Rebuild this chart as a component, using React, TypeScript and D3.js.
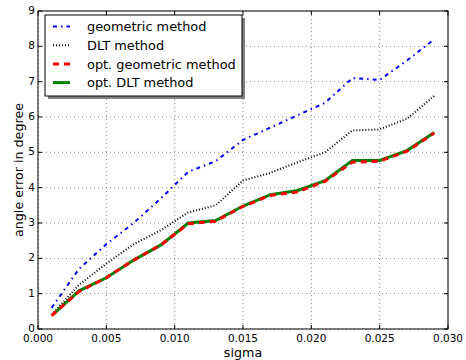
import React from "react"
import * as d3 from "d3"

// sigma values (x)
const sigma = [0.001, 0.003, 0.005, 0.007, 0.009, 0.011, 0.013, 0.015, 0.017, 0.019, 0.021, 0.023, 0.025, 0.027, 0.029]

// angle errors in degree
const geometric = [0.6, 1.7, 2.4, 3.0, 3.7, 4.45, 4.75, 5.35, 5.7, 6.05, 6.4, 7.1, 7.05, 7.6, 8.2]
const dlt = [0.4, 1.25, 1.85, 2.4, 2.8, 3.3, 3.5, 4.2, 4.42, 4.72, 5.0, 5.62, 5.65, 5.95, 6.6]
const optGeometric = [0.38, 1.06, 1.45, 1.95, 2.38, 2.98, 3.05, 3.47, 3.78, 3.88, 4.18, 4.72, 4.75, 5.03, 5.55]
const optDlt = [0.38, 1.08, 1.45, 1.95, 2.38, 3.0, 3.07, 3.48, 3.8, 3.92, 4.2, 4.77, 4.77, 5.05, 5.56]

const xTicks = [0, 0.005, 0.01, 0.015, 0.02, 0.025, 0.03]
const yTicks = [0, 1, 2, 3, 4, 5, 6, 7, 8, 9]

const seriesNames = ["geometric method", "DLT method", "opt. geometric method", "opt. DLT method"]

const FONT = "DejaVu Sans, sans-serif"

export default function App() {
  const width = 466
  const height = 360
  const left = 38
  const right = 448
  const top = 11
  const bottom = 329

  const x = d3.scaleLinear().domain([0, 0.03]).range([left, right])
  const y = d3.scaleLinear().domain([0, 9]).range([bottom, top])

  const line = d3
    .line<number>()
    .x((d, i) => x(sigma[i]))
    .y((d) => y(d))

  const styles = [
    { data: geometric, color: "#0000ff", width: 2, dash: "4,4,1.5,4" },
    { data: dlt, color: "#000000", width: 2, dash: "1,2" },
    { data: optGeometric, color: "#ff0000", width: 3, dash: "6,5" },
    { data: optDlt, color: "#008000", width: 3, dash: null },
  ]
  // draw green first so red dashes show on top
  const drawOrder = [0, 1, 3, 2]

  const legendX = 45
  const legendY = 15
  const legendW = 197
  const legendH = 81

  return (
    <div style={{ position: "fixed", left: 0, top: 0 }}>
      <svg width={width} height={height} style={{ display: "block", background: "#fff" }}>
        <rect x={0} y={0} width={width} height={height} fill="#ffffff" />

        {/* grid */}
        {xTicks.map((t) => (
          <line key={"gx" + t} x1={x(t)} x2={x(t)} y1={top} y2={bottom} stroke="#888" strokeWidth={1} strokeDasharray="1,3" />
        ))}
        {yTicks.map((t) => (
          <line key={"gy" + t} x1={left} x2={right} y1={y(t)} y2={y(t)} stroke="#888" strokeWidth={1} strokeDasharray="1,3" />
        ))}

        {/* series */}
        {drawOrder.map((k) => {
          const s = styles[k]
          return (
            <path
              key={"s" + k}
              d={line(s.data) || ""}
              fill="none"
              stroke={s.color}
              strokeWidth={s.width}
              strokeDasharray={s.dash || undefined}
            />
          )
        })}

        {/* frame */}
        <rect x={left} y={top} width={right - left} height={bottom - top} fill="none" stroke="#000" strokeWidth={1} />

        {/* ticks */}
        {xTicks.map((t) => (
          <g key={"tx" + t}>
            <line x1={x(t)} x2={x(t)} y1={bottom} y2={bottom - 4} stroke="#000" />
            <line x1={x(t)} x2={x(t)} y1={top} y2={top + 4} stroke="#000" />
            <text x={x(t)} y={342} textAnchor="middle" fontFamily={FONT} fontSize={10.5} fill="#000">
              {d3.format(".3f")(t)}
            </text>
          </g>
        ))}
        {yTicks.map((t) => (
          <g key={"ty" + t}>
            <line x1={left} x2={left + 4} y1={y(t)} y2={y(t)} stroke="#000" />
            <line x1={right} x2={right - 4} y1={y(t)} y2={y(t)} stroke="#000" />
            <text x={left - 3} y={y(t) + 3} textAnchor="end" fontFamily={FONT} fontSize={10.5} fill="#000">
              {t}
            </text>
          </g>
        ))}

        {/* axis labels */}
        <text x={(left + right) / 2} y={357} textAnchor="middle" fontFamily={FONT} fontSize={12.7} fill="#000">
          sigma
        </text>
        <text
          transform={`translate(23,${(top + bottom) / 2}) rotate(-90)`}
          textAnchor="middle"
          fontFamily={FONT}
          fontSize={12.7}
          fill="#000"
        >
          angle error in degree
        </text>

        {/* legend */}
        <rect x={legendX + 3} y={legendY + 3} width={legendW} height={legendH} fill="#808080" />
        <rect x={legendX} y={legendY} width={legendW} height={legendH} fill="#ffffff" stroke="#000" strokeWidth={1} />
        {seriesNames.map((name, i) => {
          const s = styles[i]
          const ly = legendY + 11.5 + i * 18.7
          return (
            <g key={"lg" + i}>
              <line
                x1={legendX + 8}
                x2={legendX + 25}
                y1={ly}
                y2={ly}
                stroke={s.color}
                strokeWidth={s.width}
                strokeDasharray={s.dash || undefined}
              />
              <text x={legendX + 42} y={ly + 4.7} fontFamily={FONT} fontSize={12.9} fill="#000">
                {name}
              </text>
            </g>
          )
        })}
      </svg>
    </div>
  )
}
